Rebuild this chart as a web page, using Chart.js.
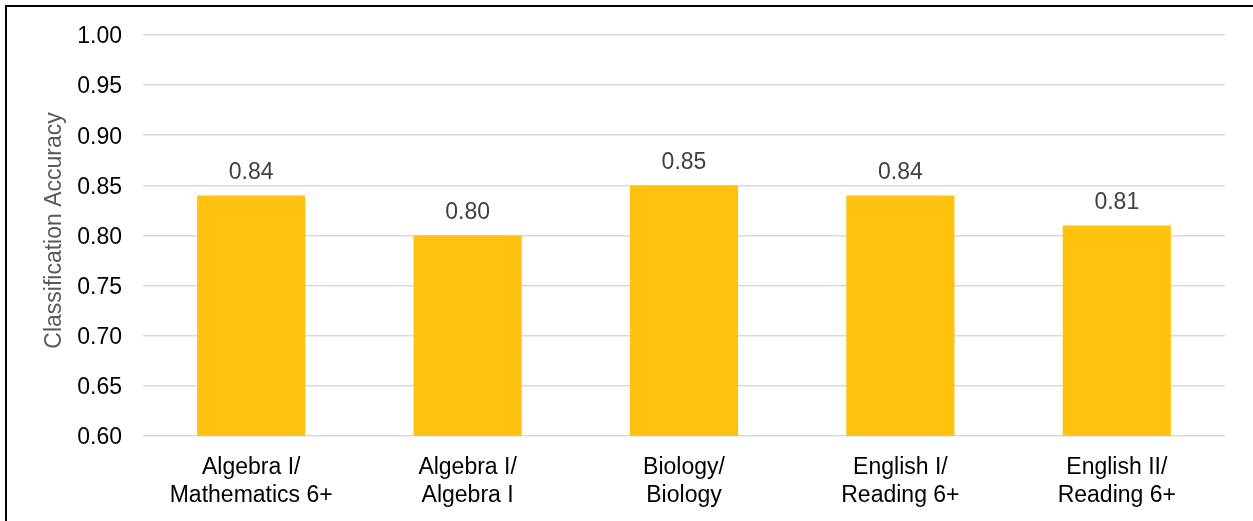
<!DOCTYPE html>
<html>
<head>
<meta charset="utf-8">
<script src="https://cdn.jsdelivr.net/npm/chart.js@4/dist/chart.umd.min.js"></script>
<style>
  html, body { margin: 0; padding: 0; background: #fff; }
  #wrap { position: relative; width: 1253px; height: 521px; overflow: hidden; }
  #frame { position: absolute; left: 5px; top: 5px; width: 1300px; height: 600px;
           border-left: 2px solid #000; border-top: 2px solid #000; box-sizing: border-box; }
  canvas { position: absolute; left: 0; top: 0; }
</style>
</head>
<body>
<div id="wrap">
  <div id="frame"></div>
  <canvas id="chart" width="1253" height="521"></canvas>
</div>
<script>
// Classification accuracy by course pairing
const categories = [
  ['Algebra I/', 'Mathematics 6+'],
  ['Algebra I/', 'Algebra I'],
  ['Biology/', 'Biology'],
  ['English I/', 'Reading 6+'],
  ['English II/', 'Reading 6+']
];
const accuracy = [0.84, 0.80, 0.85, 0.84, 0.81];
const yMin = 0.60;
const yMax = 1.00;
const yStep = 0.05;
const yTitle = 'Classification Accuracy';

const FONT = '"Liberation Sans", Arial, sans-serif';

// Writes each bar's value above it
const valueLabels = {
  id: 'valueLabels',
  afterDatasetsDraw(chart) {
    const ctx = chart.ctx;
    const meta = chart.getDatasetMeta(0);
    ctx.save();
    ctx.font = '23px ' + FONT;
    ctx.fillStyle = '#404040';
    ctx.textAlign = 'center';
    ctx.textBaseline = 'middle';
    meta.data.forEach((bar, i) => {
      ctx.fillText(accuracy[i].toFixed(2), bar.x, bar.y - 23);
    });
    ctx.restore();
  }
};

// Vertical axis title, placed a little above the plot's centre line
const axisTitle = {
  id: 'axisTitle',
  afterDraw(chart) {
    const ctx = chart.ctx;
    const area = chart.chartArea;
    ctx.save();
    ctx.translate(55, (area.top + area.bottom) / 2 - 5);
    ctx.rotate(-Math.PI / 2);
    ctx.font = '23px ' + FONT;
    ctx.fillStyle = '#595959';
    ctx.textAlign = 'center';
    ctx.textBaseline = 'middle';
    ctx.fillText(yTitle, 0, 0);
    ctx.restore();
  }
};

new Chart(document.getElementById('chart'), {
  type: 'bar',
  data: {
    labels: categories,
    datasets: [{
      data: accuracy,
      backgroundColor: '#FFC20E',
      borderWidth: 0,
      barPercentage: 0.5,
      categoryPercentage: 1.0
    }]
  },
  options: {
    responsive: false,
    animation: false,
    devicePixelRatio: 1,
    layout: { padding: { left: 9, right: 28, top: 35, bottom: 0 } },
    plugins: { legend: { display: false }, tooltip: { enabled: false } },
    scales: {
      x: {
        grid: { display: false },
        border: { display: false },
        ticks: {
          color: '#000',
          font: { family: FONT, size: 23, lineHeight: 1.217 },
          padding: 10,
          maxRotation: 0,
          autoSkip: false
        },
        afterFit(scale) { scale.height = 85; }
      },
      y: {
        min: yMin,
        max: yMax,
        grid: { color: '#d9d9d9', lineWidth: 1.5, drawTicks: false },
        border: { display: false },
        ticks: {
          stepSize: yStep,
          color: '#000',
          padding: 21,
          labelOffset: 2,
          font: { family: FONT, size: 23 },
          callback: (v) => Number(v).toFixed(2)
        },
        afterFit(scale) { scale.width = 134; }
      }
    }
  },
  plugins: [valueLabels, axisTitle]
});
</script>
</body>
</html>
